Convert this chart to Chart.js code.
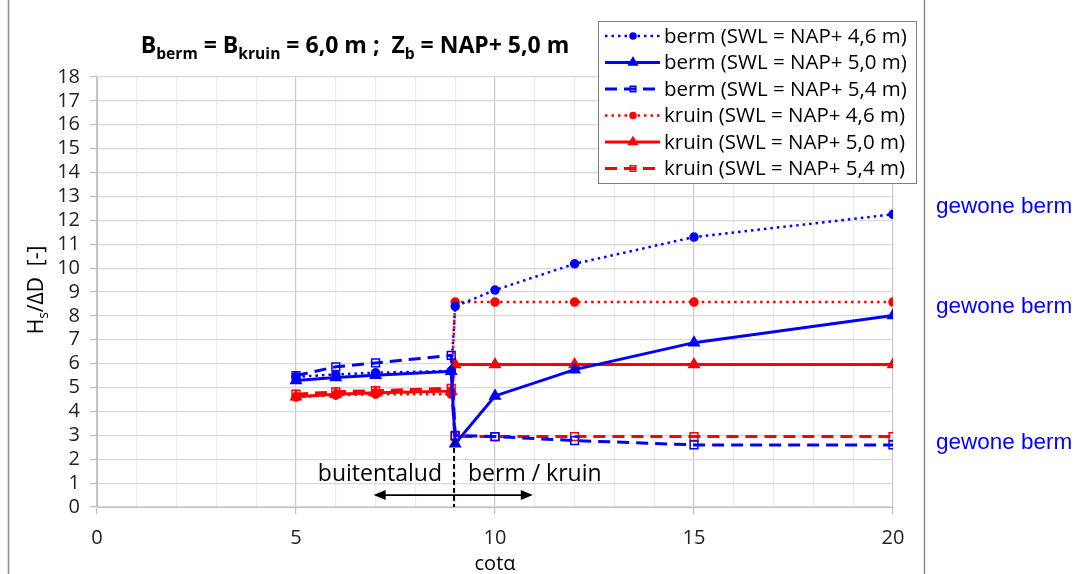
<!DOCTYPE html>
<html>
<head>
<meta charset="utf-8">
<script src="https://cdn.jsdelivr.net/npm/chart.js@4.4.1/dist/chart.umd.min.js"></script>
<style>
  html, body { margin: 0; padding: 0; background: #fff; }
  #wrap { width: 1078px; height: 574px; position: relative; }
</style>
</head>
<body>
<div id="wrap"><canvas id="chart" width="1078" height="574"></canvas></div>
<script>
// cot(alpha) positions: buitentalud 5..8.9, berm / kruin 9..20
var cotA = [5, 6, 7, 8.9, 9, 10, 12, 15, 20];

var berm46  = [5.45, 5.55, 5.62, 5.7, 8.4, 9.08, 10.18, 11.3, 12.25];
var berm50  = [5.3, 5.42, 5.52, 5.68, 2.65, 4.65, 5.75, 6.88, 8.02];
var berm54  = [5.5, 5.87, 6.03, 6.35, 3.0, 2.95, 2.78, 2.6, 2.6];
var kruin46 = [4.6, 4.68, 4.72, 4.72, 8.58, 8.58, 8.58, 8.58, 8.58];
var kruin50 = [4.62, 4.72, 4.78, 4.85, 5.96, 5.96, 5.96, 5.96, 5.96];
var kruin54 = [4.72, 4.82, 4.87, 4.97, 2.95, 2.95, 2.95, 2.95, 2.95];

var seriesNames = [
  'berm (SWL = NAP+ 4,6 m)', 'berm (SWL = NAP+ 5,0 m)', 'berm (SWL = NAP+ 5,4 m)',
  'kruin (SWL = NAP+ 4,6 m)', 'kruin (SWL = NAP+ 5,0 m)', 'kruin (SWL = NAP+ 5,4 m)'
];
var yTicks = [0, 1, 2, 3, 4, 5, 6, 7, 8, 9, 10, 11, 12, 13, 14, 15, 16, 17, 18];
var xLabels = [0, 5, 10, 15, 20];

var BLUE = '#0000ff';
var RED = '#ff0000';
var TICK_FONT = "'Open Sans', sans-serif";

function pts(values) {
  return values.map(function (v, i) { return { x: cotA[i], y: v }; });
}

function makeSet(label, values, color, kind) {
  var ds = {
    label: label,
    data: pts(values),
    borderColor: color,
    pointBorderColor: color,
    pointBackgroundColor: color,
    borderWidth: 3,
    pointBorderWidth: 1.5,
    tension: 0
  };
  if (kind === 'dot') {
    ds.borderDash = [2.5, 4];
    ds.borderWidth = 2.5;
    ds.pointStyle = 'circle';
    ds.pointRadius = 4;
  } else if (kind === 'solid') {
    ds.pointStyle = 'triangle';
    ds.pointRadius = 6;
  } else {
    ds.borderDash = [12, 7];
    ds.pointStyle = 'rect';
    ds.pointRadius = 5.5;
    ds.pointBackgroundColor = 'rgba(255,255,255,0)';
  }
  return ds;
}

var datasets = [
  makeSet(seriesNames[0], berm46, BLUE, 'dot'),
  makeSet(seriesNames[1], berm50, BLUE, 'solid'),
  makeSet(seriesNames[2], berm54, BLUE, 'dash'),
  makeSet(seriesNames[3], kruin46, RED, 'dot'),
  makeSet(seriesNames[4], kruin50, RED, 'solid'),
  makeSet(seriesNames[5], kruin54, RED, 'dash')
];

// draw text parts with subscripts, returns width
function richText(ctx, parts, x, y, size, doDraw) {
  var w = 0;
  parts.forEach(function (p) {
    var s = p.sub ? size * 0.68 : size;
    ctx.font = 'bold ' + s + "px 'Open Sans', sans-serif";
    if (doDraw) ctx.fillText(p.t, x + w, y + (p.sub ? size * 0.28 : 0));
    w += ctx.measureText(p.t).width;
  });
  return w;
}

var decorPlugin = {
  id: 'decor',
  afterDraw: function (chart) {
    var ctx = chart.ctx;
    var xs = chart.scales.x, ys = chart.scales.y;
    ctx.save();

    // outer frame lines
    ctx.strokeStyle = '#8c8c8c';
    ctx.lineWidth = 1.5;
    ctx.beginPath();
    ctx.moveTo(8.5, 0); ctx.lineTo(8.5, 574);
    ctx.moveTo(924.5, 0); ctx.lineTo(924.5, 574);
    ctx.stroke();

    // title
    ctx.fillStyle = '#000';
    ctx.textBaseline = 'alphabetic';
    ctx.textAlign = 'left';
    var parts = [
      { t: 'B' }, { t: 'berm', sub: true }, { t: ' = B' }, { t: 'kruin', sub: true },
      { t: ' = 6,0 m ;  Z' }, { t: 'b', sub: true }, { t: ' = NAP+ 5,0 m' }
    ];
    var tw = richText(ctx, parts, 0, 0, 23, false);
    richText(ctx, parts, 355 - tw / 2, 53, 23, true);

    // axis titles
    ctx.font = "20px " + TICK_FONT;
    ctx.textAlign = 'center';
    ctx.fillText('cot\u03b1', (xs.left + xs.right) / 2, 570);

    ctx.save();
    ctx.translate(36, 290);
    ctx.rotate(-Math.PI / 2);
    ctx.textAlign = 'left';
    var lab = [['H', 21, 0], ['s', 14, 5], ['/\u0394D  [-]', 21, 0]];
    var tot = 0;
    lab.forEach(function (l) { ctx.font = l[1] + 'px ' + TICK_FONT; tot += ctx.measureText(l[0]).width; });
    var cx = -tot / 2;
    lab.forEach(function (l) {
      ctx.font = l[1] + 'px ' + TICK_FONT;
      ctx.fillText(l[0], cx, 7 + l[2]);
      cx += ctx.measureText(l[0]).width;
    });
    ctx.restore();

    // region annotations
    var xb = xs.getPixelForValue(8.97);
    ctx.strokeStyle = '#000';
    ctx.lineWidth = 2;
    ctx.setLineDash([5, 3]);
    ctx.beginPath();
    ctx.moveTo(xb, ys.getPixelForValue(2.8)); ctx.lineTo(xb, ys.bottom);
    ctx.stroke();
    ctx.setLineDash([]);

    var ay = ys.getPixelForValue(0.5);
    var a1 = xs.getPixelForValue(6.95), a2 = xs.getPixelForValue(10.95);
    ctx.lineWidth = 1.8;
    ctx.beginPath(); ctx.moveTo(a1 + 6, ay); ctx.lineTo(a2 - 6, ay); ctx.stroke();
    ctx.fillStyle = '#000';
    ctx.beginPath(); ctx.moveTo(a1, ay); ctx.lineTo(a1 + 12, ay - 5); ctx.lineTo(a1 + 12, ay + 5); ctx.closePath(); ctx.fill();
    ctx.beginPath(); ctx.moveTo(a2, ay); ctx.lineTo(a2 - 12, ay - 5); ctx.lineTo(a2 - 12, ay + 5); ctx.closePath(); ctx.fill();

    ctx.font = "23px " + TICK_FONT;
    ctx.textBaseline = 'middle';
    ctx.textAlign = 'right';
    ctx.fillText('buitentalud', xb - 12, ys.getPixelForValue(1.35));
    ctx.textAlign = 'left';
    ctx.fillText('berm / kruin', xb + 14, ys.getPixelForValue(1.35));

    // end labels
    ctx.fillStyle = BLUE;
    ctx.font = "22.5px 'Liberation Sans', Arial, sans-serif";
    ctx.fillText('gewone berm', 936, 207);
    ctx.fillText('gewone berm', 936, 307);
    ctx.fillText('gewone berm', 936, 443);

    // legend
    var lx = 598, ly = 21, lw = 318, lh = 162;
    ctx.fillStyle = '#fff';
    ctx.fillRect(lx, ly, lw, lh);
    ctx.strokeStyle = '#7f7f7f';
    ctx.lineWidth = 1;
    ctx.strokeRect(lx + 0.5, ly + 0.5, lw, lh);
    chart.data.datasets.forEach(function (ds, i) {
      var ry = ly + 15 + i * 26.5;
      ctx.strokeStyle = ds.borderColor;
      ctx.lineWidth = ds.borderWidth;
      ctx.setLineDash(ds.borderDash || []);
      ctx.beginPath(); ctx.moveTo(lx + 7, ry); ctx.lineTo(lx + 62, ry); ctx.stroke();
      ctx.setLineDash([]);
      ctx.fillStyle = ds.pointBackgroundColor;
      ctx.strokeStyle = ds.pointBorderColor;
      ctx.lineWidth = ds.pointBorderWidth;
      Chart.helpers.drawPoint(ctx, {
        pointStyle: ds.pointStyle, radius: ds.pointStyle === 'rect' ? 4 : ds.pointRadius - 1,
        borderWidth: ds.pointBorderWidth, rotation: 0
      }, lx + 35, ry);
      ctx.fillStyle = '#000';
      ctx.font = "20.5px " + TICK_FONT;
      ctx.textAlign = 'left';
      ctx.textBaseline = 'middle';
      ctx.fillText(ds.label, lx + 66, ry + 1);
    });
    ctx.restore();
  }
};

new Chart(document.getElementById('chart').getContext('2d'), {
  type: 'line',
  data: { datasets: datasets },
  options: {
    responsive: false,
    animation: false,
    layout: { padding: { left: 0, top: 77, right: 185, bottom: 0 } },
    plugins: { legend: { display: false }, tooltip: { enabled: false } },
    scales: {
      x: {
        type: 'linear', min: 0, max: 20,
        afterFit: function (s) { s.height = 67; },
        afterBuildTicks: function (s) {
          s.ticks = [];
          for (var v = 0; v <= 20; v++) s.ticks.push({ value: v });
        },
        grid: {
          color: function (c) { return c.tick.value % 5 === 0 ? '#c8c8c8' : '#ececec'; },
          tickColor: function (c) { return c.tick.value % 5 === 0 ? '#bfbfbf' : 'rgba(0,0,0,0)'; },
          tickLength: 7,
          lineWidth: 1.2
        },
        border: { color: '#bfbfbf' },
        ticks: {
          autoSkip: false, maxRotation: 0, padding: 12,
          color: '#222',
          font: { family: 'Open Sans', size: 20 },
          callback: function (v) { return xLabels.indexOf(v) >= 0 ? String(v) : ''; }
        }
      },
      y: {
        type: 'linear', min: 0, max: 18,
        afterFit: function (s) { s.width = 97; },
        afterBuildTicks: function (s) { s.ticks = yTicks.map(function (v) { return { value: v }; }); },
        grid: { color: '#d9d9d9', tickColor: '#bfbfbf', tickLength: 7, lineWidth: 1.2 },
        border: { color: '#bfbfbf' },
        ticks: {
          autoSkip: false,
          padding: 10,
          color: '#222',
          font: { family: 'Open Sans', size: 20 }
        }
      }
    }
  },
  plugins: [decorPlugin]
});
</script>
</body>
</html>
